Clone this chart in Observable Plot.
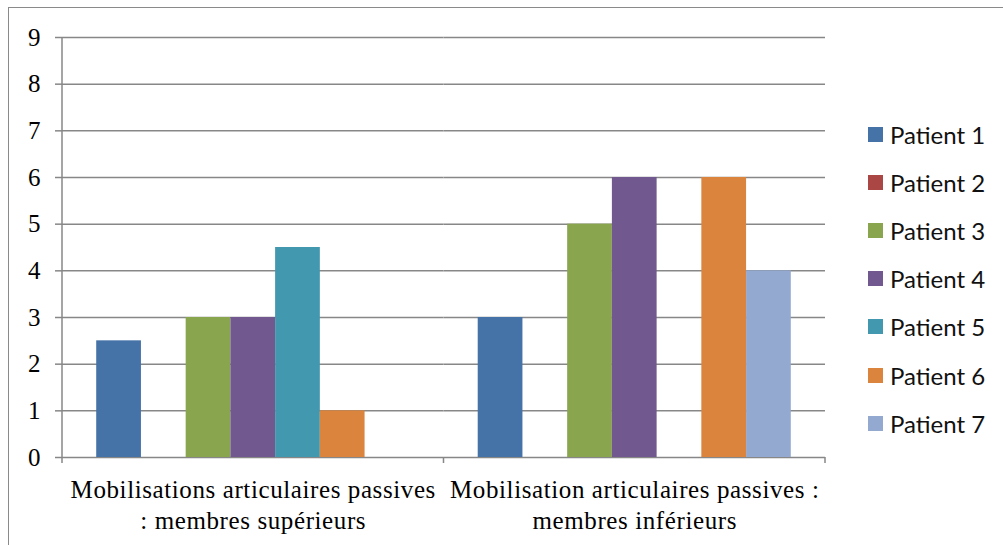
<!DOCTYPE html>
<html>
<head>
<meta charset="utf-8">
<script src="https://cdn.jsdelivr.net/npm/d3@7"></script>
<script src="https://cdn.jsdelivr.net/npm/@observablehq/plot@0.6"></script>
<style>
  html, body { margin: 0; padding: 0; background: #fff; }
  #wrap { position: relative; width: 1003px; height: 545px; overflow: hidden; }
  #frame { position: absolute; left: 8px; top: 7px; width: 1100px; height: 700px;
           border-left: 1.5px solid #8a8a8a; border-top: 1.5px solid #8a8a8a; }
  #chart { position: absolute; left: 0; top: 0; }
  #chart svg text { font-size: 25px; font-family: 'Liberation Serif', 'Times New Roman', serif; }
  #chart svg g[aria-label="fx-axis tick label"] text { letter-spacing: 0.6px; }
  #legend { position: absolute; left: 868px; top: 110px; font-family: Lato, "Open Sans", sans-serif;
            font-size: 24px; color: #111; }
  #legend .item { position: absolute; left: 0; height: 48px; display: flex; align-items: center; white-space: nowrap; }
  #legend .sw { width: 15px; height: 15px; margin-right: 7px; }
</style>
</head>
<body>
<div id="wrap">
  <div id="frame"></div>
  <div id="chart"></div>
  <div id="legend"></div>
</div>
<script>
// Exercise categories (two-line labels under the x axis)
const categories = [
  "Mobilisations articulaires passives\n: membres supérieurs",
  "Mobilisation articulaires passives :\nmembres inférieurs"
];
const patients = ["Patient 1", "Patient 2", "Patient 3", "Patient 4", "Patient 5", "Patient 6", "Patient 7"];
// Scores per patient, one array per category
const upperLimbs = [2.5, 0, 3, 3, 4.5, 1, 0];
const lowerLimbs = [3, 0, 5, 6, 0, 6, 4];
const patientColors = ["#4572A7", "#AA4643", "#89A54E", "#71588F", "#4198AF", "#DB843D", "#93A9CF"];
const yTicks = [0, 1, 2, 3, 4, 5, 6, 7, 8, 9];

const rows = [
  ...patients.map((p, i) => ({category: categories[0], patient: p, value: upperLimbs[i]})),
  ...patients.map((p, i) => ({category: categories[1], patient: p, value: lowerLimbs[i]}))
];

const axisGray = "#878787";
const serif = "'Liberation Serif', 'Times New Roman', serif";

const plot = Plot.plot({
  width: 1003,
  height: 545,
  marginLeft: 62,
  marginRight: 178,
  marginTop: 37,
  marginBottom: 88,
  style: {fontFamily: serif, fontSize: "25px", color: "#000", background: "transparent", overflow: "visible"},
  fx: {domain: categories, padding: 0, label: null, round: false},
  x: {domain: patients, axis: null, paddingInner: 0, paddingOuter: 0.765, round: false},
  y: {domain: [0, 9], label: null},
  color: {domain: patients, range: patientColors},
  marks: [
    Plot.gridY(yTicks, {stroke: axisGray, strokeOpacity: 1, strokeWidth: 1.5}),
    Plot.axisY(yTicks, {tickSize: 7, tickPadding: 15, stroke: axisGray, strokeWidth: 1.5, strokeOpacity: 1, label: null, fill: "#000"}),
    Plot.axisFx({anchor: "bottom", tickSize: 0, tickPadding: 18, lineHeight: 1.25, label: null, fill: "#000"}),
    Plot.barY(rows, {fx: "category", x: "patient", y: "value", fill: "patient"})
  ]
});

// Axis line and category boundary ticks drawn from the plot's own scales
const fx = plot.scale("fx");
const y = plot.scale("y");
const y0 = y.apply(0), y9 = y.apply(9);
const svg = d3.select(plot);
const g = svg.append("g").attr("stroke", axisGray).attr("stroke-width", 1.5);
const left = fx.apply(categories[0]);
g.append("line").attr("x1", left).attr("x2", left).attr("y1", y9).attr("y2", y0 + 6);
const edges = categories.map(c => fx.apply(c) + fx.bandwidth);
edges.forEach(x => g.append("line").attr("x1", x).attr("x2", x).attr("y1", y0).attr("y2", y0 + 6));

document.getElementById("chart").appendChild(plot);

// Legend built from the color scale
const color = plot.scale("color");
const legend = d3.select("#legend");
color.domain.forEach((name, i) => {
  const item = legend.append("div").attr("class", "item").style("top", (i * 48.2) + "px");
  item.append("div").attr("class", "sw").style("background", color.apply(name));
  item.append("span").text(name);
});
</script>
</body>
</html>
